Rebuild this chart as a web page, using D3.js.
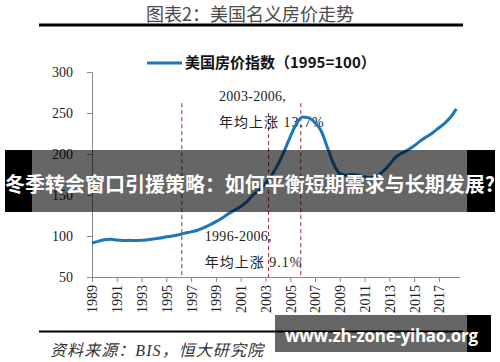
<!DOCTYPE html>
<html>
<head>
<meta charset="utf-8">
<script src="https://cdn.jsdelivr.net/npm/d3@7/dist/d3.min.js"></script>
<style>
  html, body { margin: 0; padding: 0; background: #fff; }
  svg { display: block; }
</style>
</head>
<body>
<svg id="chart" width="500" height="362"></svg>
<script>
"use strict";

// Data //////////////////////////////////////////////////
var years = [1989, 1989.5, 1990, 1990.5, 1991, 1991.5, 1992, 1992.5, 1993, 1993.5,
             1994, 1994.5, 1995, 1995.5, 1996, 1996.5, 1997, 1997.5, 1998, 1998.5,
             1999, 1999.5, 2000, 2000.5, 2001, 2001.5, 2002, 2002.5, 2003, 2003.5,
             2004, 2004.5, 2005, 2005.5, 2006, 2006.5, 2007, 2007.5, 2008, 2008.5,
             2009, 2009.5, 2010, 2010.5, 2011, 2011.5, 2012, 2012.5, 2013, 2013.5,
             2014, 2014.5, 2015, 2015.5, 2016, 2016.5, 2017, 2017.5, 2018, 2018.4];
var priceIndex = [91.5, 93.5, 95.5, 96, 95, 94.5, 94.8, 94.5, 94.8, 95.3,
                  96.5, 97.5, 99, 100, 101.5, 103.5, 105, 107, 110, 113.5,
                  117.5, 122, 127, 131.5, 136, 142, 150, 156, 164, 174,
                  187, 203, 221, 237, 245, 244, 238, 228, 208, 188,
                  176, 174, 175, 174, 172, 171, 173, 179, 187, 196,
                  201, 205, 210, 216, 221, 226, 232, 238, 246, 255];
var yTicks = [50, 100, 150, 200, 250, 300];
var xTicks = [1989, 1991, 1993, 1995, 1997, 1999, 2001, 2003, 2005, 2007, 2009, 2011, 2013, 2015, 2017];
var markYears = [1996.25, 2003.25, 2005.85];
var markTops = [262, 250, 262];
var seriesName = "美国房价指数（1995=100）";
var notes = [
  { year: 1999.25, value: 264.5, text: "2003-2006," },
  { year: 1999.25, value: 233, text: "年均上涨 13.7%" },
  { year: 1998.1, value: 94, text: "1996-2006," },
  { year: 1998.1, value: 62.5, text: "年均上涨 9.1%" }
];

var app = {

  svg: d3.select("#chart"),
  x: d3.scaleLinear().domain([1989, 2018.7]).range([92, 460]),
  y: d3.scaleLinear().domain([50, 300]).range([277, 72]),

  // Title /////////////////////////////////////////////
  title: function() {
    var svg = app.svg;
    svg.append("text")
        .attr("x", 250).attr("y", 21)
        .attr("text-anchor", "middle")
        .style("font", "18px 'Noto Sans CJK SC'")
        .style("fill", "#4a4a4a")
        .text("图表2：美国名义房价走势");
    svg.append("rect")
        .attr("x", 39).attr("y", 23.5).attr("width", 424).attr("height", 3)
        .style("fill", "#000");
  },

  // Axes //////////////////////////////////////////////
  axes: function() {
    var svg = app.svg;

    var gy = svg.append("g")
        .attr("transform", "translate(92,0)")
        .call(d3.axisLeft(app.y).tickValues(yTicks).tickSize(5).tickSizeOuter(0).tickPadding(14));

    var gx = svg.append("g")
        .attr("transform", "translate(0,277)")
        .call(d3.axisBottom(app.x).tickValues(xTicks).tickSize(5).tickSizeOuter(0)
          .tickFormat(d3.format("d")));

    gx.selectAll("text")
        .attr("y", 0).attr("x", -8).attr("dy", "0.35em")
        .attr("transform", "rotate(-90)")
        .style("text-anchor", "end");

    [gx, gy].forEach(function(g) {
      g.selectAll("path, line").style("stroke", "#888");
      g.selectAll("text")
          .style("font", "14px 'Liberation Serif'")
          .style("fill", "#222");
    });
  },

  // Marks /////////////////////////////////////////////
  marks: function() {
    var svg = app.svg;

    svg.selectAll("line.mark")
        .data(markYears)
        .enter().append("line")
        .attr("class", "mark")
        .attr("x1", function(d) { return app.x(d); })
        .attr("x2", function(d) { return app.x(d); })
        .attr("y1", function(d, i) { return app.y(markTops[i]); })
        .attr("y2", app.y(50))
        .style("stroke", "#a3282c")
        .style("stroke-width", 1)
        .style("stroke-dasharray", "4,3");

    svg.selectAll("text.note")
        .data(notes)
        .enter().append("text")
        .attr("class", "note")
        .attr("x", function(d) { return app.x(d.year); })
        .attr("y", function(d) { return app.y(d.value); })
        .style("font", "14px 'Liberation Serif', 'Noto Sans CJK SC'")
        .style("letter-spacing", function(d, i) { return i % 2 ? "1px" : "0.3px"; })
        .style("fill", "#222")
        .text(function(d) { return d.text; });

    var line = d3.line()
        .x(function(d, i) { return app.x(years[i]); })
        .y(function(d) { return app.y(d); })
        .curve(d3.curveMonotoneX);

    svg.append("path")
        .datum(priceIndex)
        .attr("d", line)
        .style("fill", "none")
        .style("stroke", "#1a76bd")
        .style("stroke-width", 3)
        .style("stroke-linejoin", "round");

    // Legend
    svg.append("line")
        .attr("x1", 147).attr("x2", 182).attr("y1", 63).attr("y2", 63)
        .style("stroke", "#1a76bd").style("stroke-width", 3);
    svg.append("text")
        .attr("x", 185).attr("y", 68)
        .style("font", "bold 15px 'Noto Sans CJK SC'")
        .style("fill", "#111")
        .text(seriesName);
  },

  // Source ////////////////////////////////////////////
  source: function() {
    var svg = app.svg;
    svg.append("rect")
        .attr("x", 39).attr("y", 330.5).attr("width", 424).attr("height", 2)
        .style("fill", "#000");
    svg.append("text")
        .attr("x", 50).attr("y", 356)
        .attr("textLength", 213)
        .style("font", "italic 16px 'Liberation Serif', 'Noto Sans CJK SC'")
        .style("fill", "#333")
        .text("资料来源：BIS，恒大研究院");
  },

  // Overlays //////////////////////////////////////////
  overlays: function() {
    var svg = app.svg;

    // banner
    svg.append("rect").attr("x", 5).attr("y", 150).attr("width", 27).attr("height", 62)
        .style("fill", "#000");
    svg.append("rect").attr("x", 467).attr("y", 150).attr("width", 28).attr("height", 62)
        .style("fill", "#000");
    svg.append("rect").attr("x", 32).attr("y", 150).attr("width", 435).attr("height", 62)
        .style("fill", "#000").style("fill-opacity", 0.6);
    svg.append("text")
        .attr("x", 250).attr("y", 192)
        .attr("text-anchor", "middle")
        .attr("textLength", 490)
        .style("font", "bold 20px 'Noto Sans CJK SC'")
        .style("fill", "#fff")
        .text("冬季转会窗口引援策略：如何平衡短期需求与长期发展?");

    // watermark
    svg.append("rect").attr("x", 467).attr("y", 315).attr("width", 24).attr("height", 37)
        .style("fill", "#000");
    svg.append("rect").attr("x", 275).attr("y", 315).attr("width", 192).attr("height", 37)
        .style("fill", "#000").style("fill-opacity", 0.6);
    svg.append("text")
        .attr("x", 285).attr("y", 342)
        .attr("textLength", 193)
        .style("font", "bold 17px 'Open Sans'")
        .style("fill", "#fff")
        .text("www.zh-zone-yihao.org");
  },

  //////////////////////////////////////////////////////
  runApp: function() {
  //////////////////////////////////////////////////////
    app.title();
    app.axes();
    app.marks();
    app.source();
    app.overlays();
  }

};

app.runApp();
</script>
</body>
</html>
